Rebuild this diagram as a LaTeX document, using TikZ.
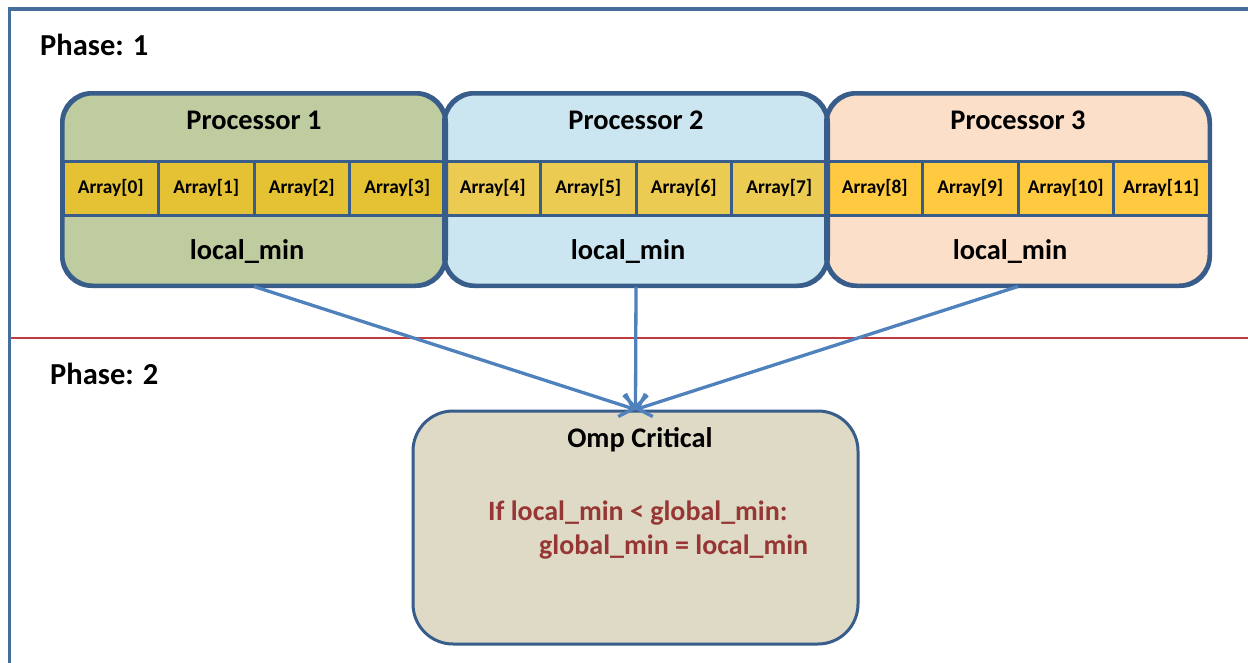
\documentclass[tikz,border=0pt]{standalone}
\usepackage{fontspec}
\setmainfont{Carlito}
\usetikzlibrary{arrows.meta}
\definecolor{bord}{RGB}{56,93,138}
\definecolor{framec}{RGB}{70,110,155}
\definecolor{arrc}{RGB}{79,129,189}
\definecolor{redline}{RGB}{192,60,60}
\definecolor{redtext}{RGB}{150,55,53}
\definecolor{gfill}{RGB}{191,204,159}
\definecolor{bfill}{RGB}{203,230,240}
\definecolor{ofill}{RGB}{251,223,201}
\definecolor{gcell}{RGB}{228,194,52}
\definecolor{bcell}{RGB}{235,203,82}
\definecolor{ocell}{RGB}{255,202,64}
\definecolor{ompfill}{RGB}{222,218,197}
\tikzset{
  procbox/.style={draw=bord, line width=3pt, rounded corners=30pt, minimum width=382pt, minimum height=191pt, inner sep=0pt},
  cellbox/.style={draw=bord, line width=3pt, minimum width=95.5pt, minimum height=54pt, inner sep=0pt, font=\fontsize{19.4}{21}\selectfont\bfseries},
  bigtxt/.style={font=\fontsize{28.4}{32}\selectfont\bfseries, inner sep=0pt, anchor=base},
  redtxt/.style={font=\fontsize{28}{32}\selectfont\bfseries, text=redtext, inner sep=0pt, anchor=base west},
  phasetxt/.style={font=\fontsize{30.5}{34}\selectfont\bfseries, inner sep=0pt, anchor=base west},
  arr/.style={draw=arrc, line width=3.3pt, -{Straight Barb[length=12pt,width=24pt,line width=3.3pt]}},
}
\begin{document}
\begin{tikzpicture}[x=1pt,y=-1pt]
\useasboundingbox (0,0) rectangle (1248,662);
\fill[white] (0,0) rectangle (1248,662);
% frame and divider
\draw[framec, line width=3.3pt] (1250,9) -- (9.5,9) -- (9.5,664);
\draw[redline, line width=1.5pt] (11,338) -- (1250,338);
\node[phasetxt] (ph1) at (40,55) {Phase: 1};
\node[phasetxt] (ph2) at (50,384) {Phase: 2};
% processor boxes
\node[procbox, fill=gfill] (p1) at (254,189.5) {};
\node[procbox, fill=bfill] (p2) at (636,189.5) {};
\node[procbox, fill=ofill] (p3) at (1018,189.5) {};
% cells
\foreach \k in {0,...,3} {
  \node[cellbox, fill=gcell] (c\k) at ({63+47.75+\k*95.5},188) {Array[\k]};
}
\foreach \k in {4,...,7} {
  \node[cellbox, fill=bcell] (c\k) at ({445+47.75+(\k-4)*95.5},188) {Array[\k]};
}
\foreach \k in {8,...,11} {
  \node[cellbox, fill=ocell] (c\k) at ({827+47.75+(\k-8)*95.5},188) {Array[\k]};
}
% redraw box outlines on top
\draw[bord, line width=3pt, rounded corners=30pt] (p1.north west) rectangle (p1.south east);
\draw[bord, line width=3pt, rounded corners=30pt] (p2.north west) rectangle (p2.south east);
\draw[bord, line width=3pt, rounded corners=30pt] (p3.north west) rectangle (p3.south east);
% titles
\node[bigtxt] (t1) at (254,129) {Processor 1};
\node[bigtxt] (t2) at (636,129) {Processor 2};
\node[bigtxt] (t3) at (1018,129) {Processor 3};
\node[bigtxt] (l1) at (247,259) {local\_min};
\node[bigtxt] (l2) at (628,259) {local\_min};
\node[bigtxt] (l3) at (1010,259) {local\_min};
% omp critical box
\node[draw=bord, line width=3pt, rounded corners=40pt, fill=ompfill, minimum width=445pt, minimum height=233pt, inner sep=0pt] (omp) at (635.5,527.5) {};
\node[bigtxt] (ot) at (640,447) {Omp Critical};
\node[redtxt] (r1) at (488,520) {If local\_min < global\_min:};
\node[redtxt] (r2) at (539,554) {global\_min = local\_min};
% arrows
\draw[arr] (p1.south) -- (omp.north);
\draw[arr] (p2.south) -- (omp.north);
\draw[arr] (p3.south) -- (omp.north);
\end{tikzpicture}
\end{document}
